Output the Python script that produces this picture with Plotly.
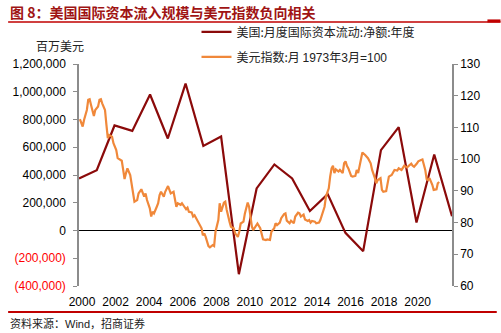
import pandas as pd
import plotly.graph_objects as go

# Annual US net international capital flows (USD millions)
flow_years = list(range(2000, 2022))
flow_values = [375000, 434000, 757000, 718000, 980000, 663000, 1059000, 610000,
               677000, -315000, 303000, 476000, 375000, 141000, 262000, -17000,
               -149000, 579000, 745000, 58000, 548000, 103000]

# Monthly US dollar index (March 1973 = 100); months counted from 1999-11
usdx_month_idx = [0, 2, 3, 5, 6, 7, 8, 10, 11, 13, 14, 15, 16, 18, 19, 20, 21, 23, 24, 26,
                  27, 29, 30, 31, 32, 33, 34, 36, 37, 38, 39, 41, 42, 44, 45, 46, 47, 48, 50, 51,
                  52, 53, 55, 56, 57, 58, 60, 61, 63, 64, 65, 67, 68, 69, 70, 72, 73, 74, 76, 77,
                  78, 80, 81, 82, 84, 86, 87, 88, 89, 90, 92, 93, 95, 96, 97, 99, 100, 101, 103, 104,
                  105, 107, 108, 110, 111, 113, 114, 115, 117, 118, 120, 121, 122, 123, 124, 126, 127, 129, 130, 131,
                  133, 134, 136, 137, 139, 140, 141, 143, 144, 146, 147, 148, 150, 151, 153, 154, 156, 157, 158, 160,
                  161, 163, 164, 165, 166, 168, 169, 171, 172, 173, 175, 176, 178, 179, 180, 181, 182, 183, 185, 186,
                  188, 189, 190, 191, 192, 194, 195, 197, 198, 199, 201, 202, 204, 205, 206, 208, 209, 211, 212, 213,
                  215, 216, 217, 219, 220, 221, 223, 224, 225, 227, 228, 230, 231, 232, 234, 235, 237, 238, 239, 241,
                  242, 244, 245, 247, 248, 249, 250, 252, 253, 255, 256, 257]
usdx_values = [112.6, 110.3, 112.4, 115.5, 118.7, 118.9, 117.1, 113.6, 115.5, 116.6, 118.7, 118.9, 117.6, 115.5, 110.8, 106.6, 107.6, 107.1, 105.0, 102.9,
               100.3, 99.7, 99.5, 96.6, 93.7, 95.6, 97.1, 95.0, 91.9, 89.2, 86.6, 87.1, 89.2, 90.5, 89.2, 88.2, 89.2, 87.1, 84.5, 81.9,
               83.4, 82.9, 85.0, 86.1, 88.7, 89.7, 88.2, 89.7, 91.5, 90.3, 89.2, 89.7, 87.6, 85.0, 86.1, 85.6, 86.1, 85.5, 84.2, 84.7,
               83.4, 83.2, 81.9, 82.3, 80.8, 79.2, 78.2, 76.0, 76.6, 75.5, 72.6, 72.2, 72.9, 72.6, 77.1, 80.8, 86.1, 83.4, 86.3, 86.6,
               84.0, 80.3, 78.7, 78.2, 76.6, 75.5, 77.1, 79.7, 80.3, 82.9, 86.3, 85.0, 81.9, 78.7, 77.6, 79.2, 79.7, 78.2, 76.1, 74.7,
               74.5, 74.7, 74.5, 77.1, 78.2, 79.8, 79.2, 80.0, 81.4, 82.7, 82.9, 80.6, 79.8, 80.6, 79.8, 81.9, 83.1, 82.9, 81.9, 82.5,
               81.0, 80.5, 80.8, 80.0, 80.5, 80.3, 79.8, 80.0, 80.8, 82.4, 85.0, 88.2, 90.8, 94.5, 97.1, 97.9, 95.6, 96.8, 96.1, 96.6,
               95.6, 98.7, 99.3, 97.9, 97.1, 94.7, 94.5, 94.7, 96.6, 95.6, 99.7, 102.1, 101.3, 100.8, 100.3, 98.7, 96.6, 94.0, 92.4, 93.4,
               94.0, 90.3, 89.7, 89.9, 91.9, 94.5, 95.0, 95.6, 96.6, 96.4, 97.1, 96.6, 97.4, 97.9, 97.4, 97.9, 98.6, 97.9, 97.6, 98.6,
               99.3, 99.7, 99.9, 96.6, 93.7, 93.4, 94.0, 91.9, 90.3, 90.5, 92.4, 92.8]

left_tickvals = [-400000, -200000, 0, 200000, 400000, 600000, 800000, 1000000, 1200000]
left_ticktext = ["<span style='color:#FF0000'>(400,000)</span>",
                 "<span style='color:#FF0000'>(200,000)</span>",
                 "0", "200,000", "400,000", "600,000", "800,000", "1,000,000", "1,200,000"]
right_tickvals = [60, 70, 80, 90, 100, 110, 120, 130]
year_ticks = list(range(2000, 2021, 2))

base = pd.Period("1999-11", freq="M")
usdx_dates = [((base + m).to_timestamp() + pd.Timedelta(days=14)).strftime("%Y-%m-%d")
              for m in usdx_month_idx]

MAROON = "#8B0A0A"
ORANGE = "#F0883A"
CJK = "Noto Sans CJK SC"
LATIN = "Liberation Sans, Arial"

fig = go.Figure()
# annual flows on the primary (hidden) year axis and left value axis
fig.add_trace(go.Scatter(
    x=flow_years, y=flow_values, mode="lines", name="美国:月度国际资本流动:净额:年度",
    legendgroup="a", line=dict(color=MAROON, width=2.2), xaxis="x", yaxis="y"))
# monthly dollar index on the date axis and right value axis
fig.add_trace(go.Scatter(
    x=usdx_dates, y=usdx_values, mode="lines", legendgroup="b",
    name="美元指数:月 <span style='font-family:Liberation Sans'>1973</span>年"
         "<span style='font-family:Liberation Sans'>3</span>月"
         "<span style='font-family:Liberation Sans'>=100</span>",
    line=dict(color=ORANGE, width=2.2), xaxis="x2", yaxis="y2"))

fig.update_layout(
    width=501, height=333,
    margin=dict(l=75, r=49, t=64, b=47),
    paper_bgcolor="white", plot_bgcolor="white",
    font=dict(family=LATIN, size=12, color="#000000"),
    showlegend=True,
    legend=dict(x=0.315, xanchor="left", y=1.21, yanchor="top",
                bgcolor="rgba(0,0,0,0)", borderwidth=0,
                font=dict(family=CJK, size=12, color="#222222"),
                tracegroupgap=6, itemwidth=30, traceorder="grouped"),
    xaxis=dict(range=[2000, 2021], visible=False),
    xaxis2=dict(type="date", overlaying="x", side="bottom",
                range=["1999-10-27", "2022-01-18"],
                tickvals=[f"{y}-01-01" for y in year_ticks],
                ticktext=[str(y) for y in year_ticks],
                showgrid=False, showline=False, zeroline=False,
                ticks="outside", ticklen=5, tickcolor="rgba(0,0,0,0)",
                tickfont=dict(family=LATIN, size=12, color="#000000")),
    yaxis=dict(range=[-400000, 1200000], tickvals=left_tickvals, ticktext=left_ticktext,
               showgrid=False, showline=True, linecolor="#8C8C8C", linewidth=1.5,
               ticks="outside", ticklen=4, tickcolor="#8C8C8C", ticklabelstandoff=5,
               zeroline=True, zerolinecolor="#000000", zerolinewidth=1.2,
               tickfont=dict(family=LATIN, size=12, color="#000000")),
    yaxis2=dict(range=[60, 130], tickvals=right_tickvals, overlaying="y", side="right",
                showgrid=False, showline=True, linecolor="#8C8C8C", linewidth=1.5,
                ticks="outside", ticklen=4, tickcolor="#8C8C8C", zeroline=False,
                tickfont=dict(family=LATIN, size=12, color="#000000")),
)

# Header, unit label and source note
fig.add_annotation(xref="paper", yref="paper", x=-0.19, y=1.234, xanchor="left", yanchor="middle",
                   text="<b>图 8：美国国际资本流入规模与美元指数负向相关</b>", showarrow=False,
                   font=dict(family=CJK, size=14, color="#A01414"))
fig.add_shape(type="line", xref="paper", yref="paper", x0=-0.19, x1=1.13, y0=1.189, y1=1.189,
              line=dict(color="#C00000", width=1.5))
fig.add_shape(type="line", xref="paper", yref="paper", x0=1.095, x1=1.13, y0=1.194, y1=1.194,
              line=dict(color="#C00000", width=3))
fig.add_annotation(xref="paper", yref="paper", x=-0.05, y=1.085, xanchor="center", yanchor="middle",
                   text="百万美元", showarrow=False,
                   font=dict(family=CJK, size=12, color="#222222"))
fig.add_shape(type="line", xref="paper", yref="paper", x0=-0.19, x1=1.12, y0=-0.117, y1=-0.117,
              line=dict(color="#C00000", width=2))
fig.add_annotation(xref="paper", yref="paper", x=-0.19, y=-0.165, xanchor="left", yanchor="middle",
                   text="资料来源：<span style='font-family:Liberation Sans'>Wind</span>，招商证券",
                   showarrow=False, font=dict(family=CJK, size=11, color="#222222"))

fig.write_html("out.html")
